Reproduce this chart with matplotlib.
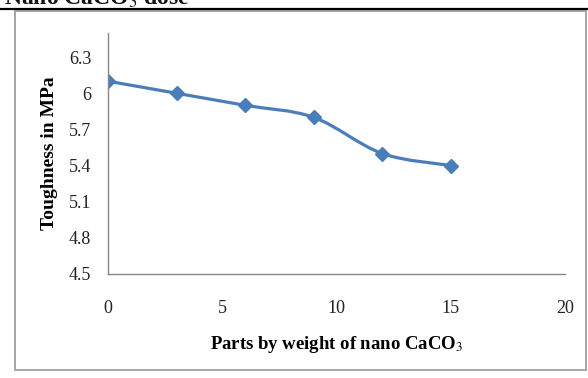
import numpy as np
import matplotlib
matplotlib.use("Agg")
import matplotlib.pyplot as plt
from matplotlib.path import Path
from matplotlib.patches import PathPatch, Rectangle
from matplotlib.lines import Line2D

# Toughness vs. nano CaCO3 loading
parts = [0, 3, 6, 9, 12, 15]
toughness = [6.1, 6.0, 5.9, 5.8, 5.5, 5.4]
x_ticks = [0, 5, 10, 15, 20]
y_ticks = [4.5, 4.8, 5.1, 5.4, 5.7, 6.0, 6.3]
y_tick_labels = ["4.5", "4.8", "5.1", "5.4", "5.7", "6", "6.3"]

W, H = 588, 378
fig = plt.figure(figsize=(W / 100, H / 100), dpi=100)
fig.patch.set_facecolor("white")

serif = ["Liberation Serif", "DejaVu Serif"]
plt.rcParams["mathtext.fontset"] = "stix"
line_col = "#4A7EBB"

# Caption fragment above the figure rule (cut off by the page edge)
fig.text(4 / W, 1 - 5 / H, "Nano CaCO$_3$ dose", fontsize=17, fontweight="bold",
         family=serif, ha="left", va="baseline", color="#111111")
# horizontal rule
fig.add_artist(Line2D([0, 1], [1 - 9 / H, 1 - 9 / H], color="black", lw=1.6,
                      transform=fig.transFigure))
# chart border
fig.add_artist(Rectangle((15 / W, 1 - 370 / H), (586 - 15) / W, (370 - 11) / H,
                         transform=fig.transFigure, fill=False,
                         edgecolor="#A6A6A6", lw=1.4))

ax = fig.add_axes([108 / W, 1 - 274 / H, (565 - 108) / W, (274 - 33) / H])
ax.set_xlim(0, 20)
ax.set_ylim(4.5, 6.5)

# smoothed curve through the points (Catmull-Rom as cubic Bezier segments)
pts = np.column_stack([parts, toughness]).astype(float)
n = len(pts)
verts = [tuple(pts[0])]
codes = [Path.MOVETO]
t = 1 / 6
for i in range(n - 1):
    p0 = pts[i - 1] if i > 0 else pts[i]
    p1 = pts[i]
    p2 = pts[i + 1]
    p3 = pts[i + 2] if i + 2 < n else pts[i + 1]
    c1 = p1 + (p2 - p0) * t
    c2 = p2 - (p3 - p1) * t
    verts += [tuple(c1), tuple(c2), tuple(p2)]
    codes += [Path.CURVE4] * 3
ax.add_patch(PathPatch(Path(verts, codes), fill=False, edgecolor=line_col, lw=2.3,
                       capstyle="round", joinstyle="round"))
ax.plot(parts, toughness, linestyle="none", marker="D", markersize=7,
        color=line_col, markeredgecolor=line_col)

for s in ["top", "right"]:
    ax.spines[s].set_visible(False)
for s in ["left", "bottom"]:
    ax.spines[s].set_color("#868686")
    ax.spines[s].set_linewidth(1.0)

ax.set_xticks(x_ticks)
ax.set_xticklabels([str(v) for v in x_ticks], family=serif, fontsize=13)
ax.set_yticks(y_ticks)
ax.set_yticklabels(y_tick_labels, family=serif, fontsize=13)
ax.tick_params(axis="both", length=0, colors="#222222")
ax.tick_params(axis="x", pad=19)
ax.tick_params(axis="y", pad=12)

ax.set_xlabel("Parts by weight of nano CaCO$_3$", family=serif, fontsize=13.5,
              fontweight="bold", labelpad=12)
ax.set_ylabel("Toughness in MPa", family=serif, fontsize=14,
              fontweight="bold", labelpad=8)

fig.savefig("out.png", dpi=100, facecolor="white")
